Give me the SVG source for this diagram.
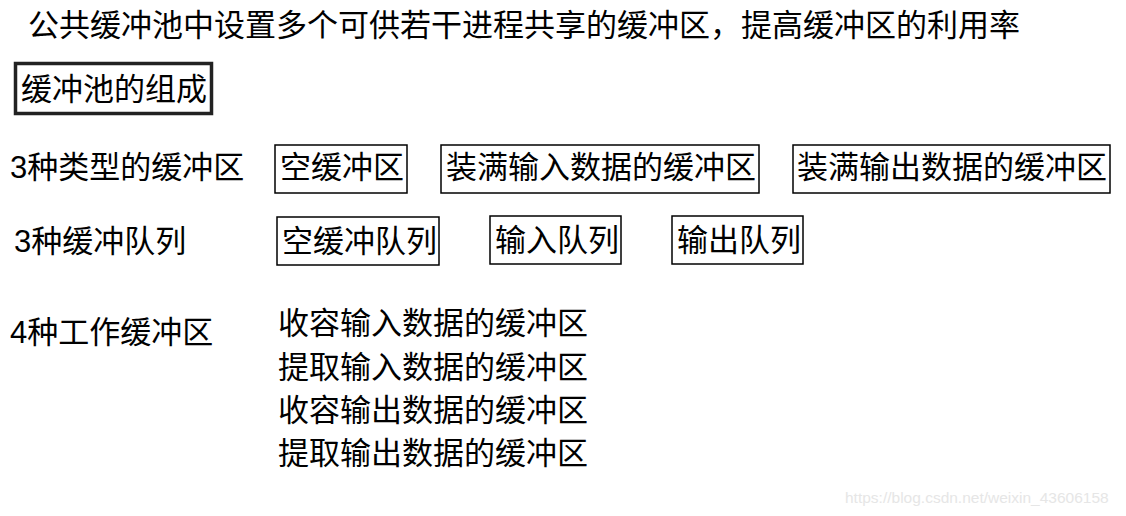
<svg xmlns="http://www.w3.org/2000/svg" width="1126" height="516" viewBox="0 0 1126 516">
<style>
text{font-family:"Liberation Sans","Noto Sans CJK SC",sans-serif;font-size:31px;fill:#000}
.b{fill:#fff;stroke:#000;stroke-width:1.5}
.wm{font-size:15.5px;fill:#e6e6e6}
</style>
<rect width="1126" height="516" fill="#fff"/>
<text x="28" y="36">公共缓冲池中设置多个可供若干进程共享的缓冲区，提高缓冲区的利用率</text>
<g id="pool"><rect x="15.5" y="63.5" width="196" height="50" fill="#fff" stroke="#222" stroke-width="3.5"/><text x="21" y="100">缓冲池的组成</text></g>
<g id="types"><text x="10" y="178">3种类型的缓冲区</text></g>
<g id="t1"><rect class="b" x="275" y="145" width="132" height="48"/><text x="280" y="178">空缓冲区</text></g>
<g id="t2"><rect class="b" x="441" y="145" width="318" height="48"/><text x="446" y="178">装满输入数据的缓冲区</text></g>
<g id="t3"><rect class="b" x="793" y="145" width="317" height="48"/><text x="797" y="178">装满输出数据的缓冲区</text></g>
<g id="queues"><text x="14" y="252">3种缓冲队列</text></g>
<g id="q1"><rect class="b" x="277" y="217" width="162" height="48"/><text x="282" y="252">空缓冲队列</text></g>
<g id="q2"><rect class="b" x="490" y="216" width="131" height="48"/><text x="495" y="251">输入队列</text></g>
<g id="q3"><rect class="b" x="672" y="216" width="131" height="48"/><text x="677" y="251">输出队列</text></g>
<g id="work"><text x="10" y="343">4种工作缓冲区</text>
<text x="278" y="334">收容输入数据的缓冲区</text>
<text x="278" y="378">提取输入数据的缓冲区</text>
<text x="278" y="421">收容输出数据的缓冲区</text>
<text x="278" y="464">提取输出数据的缓冲区</text></g>
<g id="connectors"/>
<text class="wm" x="845" y="503">https://blog.csdn.net/weixin_43606158</text>
</svg>
